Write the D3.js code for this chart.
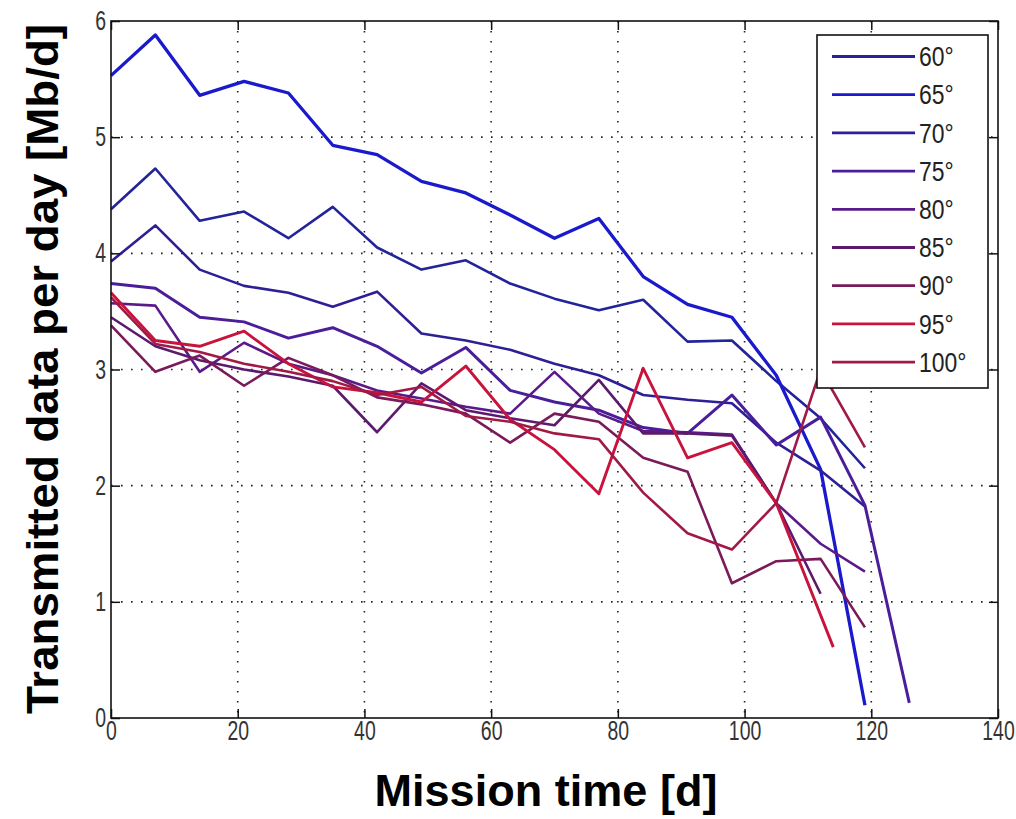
<!DOCTYPE html>
<html><head><meta charset="utf-8">
<script src="https://cdn.jsdelivr.net/npm/d3@7"></script>
<style>body{margin:0;background:#fff}</style>
</head><body><svg id="c" width="1016" height="819"></svg>
<script>
const angles = ["60°","65°","70°","75°","80°","85°","90°","95°","100°"];
const colors = ["#23239a","#1a1acc","#2d1f95","#4a1e9a","#5a1a8a","#5c1a6e","#7a1a5a","#c8143c","#a01a45"];
const days = [0,7,14,21,28,35,42,49,56,63,70,77,84,91,98,105,112,119,126];
const tx60  = [4.38,4.73,4.28,4.36,4.13,4.40,4.05,3.86,3.94,3.74,3.61,3.51,3.60,3.24,3.25,2.90,2.58,2.15];
const tx65  = [5.53,5.88,5.36,5.48,5.38,4.93,4.85,4.62,4.52,4.33,4.13,4.30,3.80,3.56,3.45,2.95,2.14,0.11];
const tx70  = [3.93,4.24,3.86,3.72,3.66,3.54,3.67,3.31,3.25,3.17,3.05,2.95,2.78,2.74,2.71,2.37,2.13,1.82];
const tx75  = [3.74,3.70,3.45,3.41,3.27,3.36,3.20,2.97,3.19,2.82,2.72,2.65,2.50,2.45,2.78,2.35,2.59,1.83,0.13];
const tx80  = [3.57,3.55,2.98,3.23,3.05,2.95,2.82,2.75,2.68,2.62,2.98,2.62,2.47,2.46,2.44,1.85,1.50,1.26];
const tx85  = [3.45,3.20,3.08,3.00,2.94,2.86,2.46,2.88,2.65,2.58,2.52,2.91,2.45,2.45,2.43,1.85,1.07];
const tx90  = [3.38,2.98,3.12,2.86,3.10,2.95,2.76,2.70,2.62,2.37,2.62,2.55,2.24,2.12,1.16,1.35,1.37,0.78];
const tx95  = [3.66,3.25,3.20,3.33,3.05,2.85,2.80,2.72,3.03,2.57,2.31,1.93,3.01,2.24,2.37,1.85,0.61];
const tx100 = [3.62,3.22,3.15,3.05,2.98,2.90,2.78,2.85,2.60,2.55,2.45,2.40,1.94,1.59,1.45,1.85,3.00,2.33];
const endDays = [119,119,119,126,119,112,119,114,119];
const xTicks = [0,20,40,60,80,100,120,140];
const yTicks = [0,1,2,3,4,5,6];

const series = [tx60,tx65,tx70,tx75,tx80,tx85,tx90,tx95,tx100];
const widths = [2.6,3.3,2.6,3,2.6,2.6,2.6,2.9,2.6];

const svg = d3.select("#c");
const L=111,R=998,T=21,B=718;
const x = d3.scaleLinear().domain([0,140]).range([L,R]);
const y = d3.scaleLinear().domain([0,6]).range([B,T]);
const sans = "'Liberation Sans',Arial,sans-serif";

// grid
const grid = svg.append("g").attr("stroke","#222").attr("stroke-width",1.6).attr("stroke-dasharray","1.6,8.4");
xTicks.filter(d=>d>0&&d<140).forEach(d=>grid.append("line").attr("x1",x(d)).attr("x2",x(d)).attr("y1",T).attr("y2",B));
yTicks.filter(d=>d>0&&d<6).forEach(d=>grid.append("line").attr("x1",L).attr("x2",R).attr("y1",y(d)).attr("y2",y(d)));

// lines
const line = d3.line().x(d=>x(d[0])).y(d=>y(d[1]));
series.forEach((vals,k)=>{
  const pts = vals.map((v,i)=>[i===vals.length-1?endDays[k]:days[i], v]);
  svg.append("path").datum(pts).attr("d",line).attr("fill","none")
    .attr("stroke",colors[k]).attr("stroke-width",widths[k]).attr("stroke-linejoin","round");
});

// axes
const fmt = d3.format("d");
const ax = svg.append("g").attr("transform",`translate(0,${B})`)
  .call(d3.axisBottom(x).tickValues(xTicks).tickFormat(fmt).tickSizeInner(-9).tickSizeOuter(0).tickPadding(3));
const ay = svg.append("g").attr("transform",`translate(${L},0)`)
  .call(d3.axisLeft(y).tickValues(yTicks).tickFormat(fmt).tickSizeInner(-9).tickSizeOuter(0).tickPadding(5));
const axT = svg.append("g").attr("transform",`translate(0,${T})`)
  .call(d3.axisTop(x).tickValues(xTicks).tickSizeInner(-9).tickSizeOuter(0).tickFormat(""));
const ayR = svg.append("g").attr("transform",`translate(${R},0)`)
  .call(d3.axisRight(y).tickValues(yTicks).tickSizeInner(-9).tickSizeOuter(0).tickFormat(""));
[ax,ay,axT,ayR].forEach(g=>{
  g.select(".domain").remove();
  g.selectAll(".tick line").attr("stroke","#111").attr("stroke-width",1.5);
  g.selectAll("text").attr("font-family",sans).attr("font-size",27).attr("fill","#333");
});
ax.selectAll("text").attr("transform","scale(0.72,1)");
ay.selectAll("text").attr("transform","scale(0.72,1)").attr("x",-5/0.72);

svg.append("rect").attr("x",L).attr("y",T).attr("width",R-L).attr("height",B-T)
  .attr("fill","none").attr("stroke","#111").attr("stroke-width",1.6);

// legend
const lg = svg.append("g");
lg.append("rect").attr("x",817).attr("y",35).attr("width",171).attr("height",353)
  .attr("fill","#fff").attr("stroke","#111").attr("stroke-width",1.6);
angles.forEach((a,k)=>{
  const yy = 56.5 + k*38.2;
  lg.append("line").attr("x1",832).attr("x2",915).attr("y1",yy).attr("y2",yy)
    .attr("stroke",colors[k]).attr("stroke-width",2.8);
  lg.append("text").attr("transform",`translate(919,${yy}) scale(0.85,1)`).attr("dy","0.36em")
    .attr("font-family",sans).attr("font-size",27).attr("fill","#222").text(a);
});

// titles
svg.append("text").attr("x",546).attr("y",806).attr("text-anchor","middle")
  .attr("font-family",sans).attr("font-weight","bold")
  .attr("font-size",45).attr("textLength",343).attr("lengthAdjust","spacingAndGlyphs")
  .attr("fill","#000").text("Mission time [d]");
svg.append("text").attr("transform","translate(58,369) rotate(-90)").attr("text-anchor","middle")
  .attr("font-family",sans).attr("font-weight","bold")
  .attr("font-size",45).attr("textLength",690).attr("lengthAdjust","spacingAndGlyphs")
  .attr("fill","#000").text("Transmitted data per day [Mb/d]");
</script></body></html>
